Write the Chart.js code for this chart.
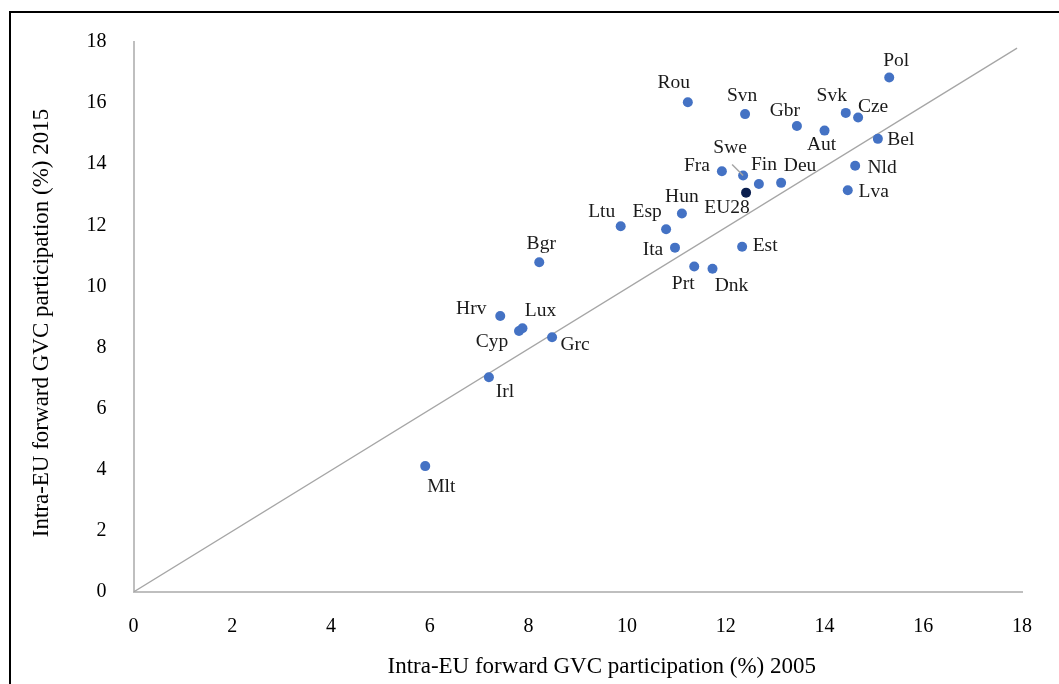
<!DOCTYPE html>
<html>
<head>
<meta charset="utf-8">
<script src="https://cdn.jsdelivr.net/npm/chart.js@4.4.1/dist/chart.umd.min.js"></script>
<style>
  body { margin: 0; background: #fff; overflow: hidden; }
  #frame { position: absolute; left: 9px; top: 11px; width: 1100px; height: 700px; border: 2px solid #000; }
  #myChart { position: absolute; left: 0; top: 0; }
</style>
</head>
<body>
<div id="frame"></div>
<canvas id="myChart" width="1059" height="684"></canvas>
<script>
// values
const countries = ['Pol', 'Rou', 'Svn', 'Gbr', 'Svk', 'Cze', 'Aut', 'Bel', 'Nld', 'Lva',
  'Fra', 'Swe', 'Fin', 'Deu', 'EU28', 'Hun', 'Ltu', 'Esp', 'Ita', 'Est',
  'Prt', 'Dnk', 'Bgr', 'Hrv', 'Lux', 'Cyp', 'Grc', 'Irl', 'Mlt'];
const gvc2005 = [15.31, 11.23, 12.39, 13.44, 14.43, 14.68, 14.00, 15.08, 14.62, 14.47,
  11.92, 12.35, 12.67, 13.12, 12.41, 11.11, 9.87, 10.79, 10.97, 12.33,
  11.36, 11.73, 8.22, 7.43, 7.88, 7.81, 8.48, 7.20, 5.91];
const gvc2015 = [16.84, 16.03, 15.64, 15.25, 15.68, 15.53, 15.10, 14.83, 13.95, 13.15,
  13.77, 13.63, 13.35, 13.39, 13.07, 12.39, 11.97, 11.87, 11.27, 11.30,
  10.65, 10.58, 10.79, 9.03, 8.63, 8.54, 8.34, 7.03, 4.12];
const diagX = [0, 17.9];
const diagY = [0, 17.8];
const ticksXY = [0, 2, 4, 6, 8, 10, 12, 14, 16, 18];
const xTitle = 'Intra-EU forward GVC participation (%) 2005';
const yTitle = 'Intra-EU forward GVC participation (%) 2015';

// where each name sits relative to its dot (px)
const labelOffset = {
  Pol: [7, -17], Rou: [-14, -19], Svn: [-3, -18], Gbr: [-12, -15], Svk: [-14, -17],
  Cze: [15, -11], Aut: [-3, 14], Bel: [23, 1], Nld: [27, 2], Lva: [26, 2],
  Fra: [-25, -5], Swe: [-13, -28], Fin: [5, -19], Deu: [19, -17], EU28: [-19, 15],
  Hun: [0, -17], Ltu: [-19, -14], Esp: [-19, -17], Ita: [-22, 2], Est: [23, -1],
  Prt: [-11, 17], Dnk: [19, 17], Bgr: [2, -18], Hrv: [-29, -7], Lux: [18, -17],
  Cyp: [-27, 11], Grc: [23, 8], Irl: [16, 15], Mlt: [16, 21]
};

const serif = "'Liberation Serif', 'DejaVu Serif', serif";

const pointLabels = {
  id: 'pointLabels',
  afterDatasetsDraw(chart) {
    const ctx = chart.ctx;
    const meta = chart.getDatasetMeta(0);
    ctx.save();
    ctx.font = '19.5px ' + serif;
    ctx.fillStyle = '#1a1a1a';
    ctx.textAlign = 'center';
    ctx.textBaseline = 'middle';
    meta.data.forEach((pt, i) => {
      const name = countries[i];
      const off = labelOffset[name];
      if (name === 'Swe') {
        ctx.strokeStyle = '#a6a6a6';
        ctx.lineWidth = 1.5;
        ctx.beginPath();
        ctx.moveTo(pt.x - 11, pt.y - 11);
        ctx.lineTo(pt.x, pt.y);
        ctx.stroke();
      }
      ctx.fillText(name, pt.x + off[0], pt.y + off[1]);
    });
    ctx.restore();
  }
};

// axis titles sit a little off-centre in the original, so they are drawn here
const axisTitles = {
  id: 'axisTitles',
  afterDraw(chart) {
    const ctx = chart.ctx;
    const a = chart.chartArea;
    ctx.save();
    ctx.font = '23px ' + serif;
    ctx.fillStyle = '#000';
    ctx.textAlign = 'center';
    ctx.textBaseline = 'alphabetic';
    ctx.fillText(xTitle, (a.left + a.right) / 2 + 24, a.bottom + 81);
    ctx.translate(48, (a.top + a.bottom) / 2 + 6);
    ctx.rotate(-Math.PI / 2);
    ctx.fillText(yTitle, 0, 0);
    ctx.restore();
  }
};

const canvas = document.getElementById('myChart');
const ctx = canvas.getContext('2d');

const chart = new Chart(ctx, {
  type: 'scatter',
  data: {
    datasets: [{
      label: 'countries',
      data: countries.map((c, i) => ({ x: gvc2005[i], y: gvc2015[i] })),
      backgroundColor: countries.map(c => c === 'EU28' ? '#0b1f4f' : '#4472c4'),
      borderWidth: 0,
      pointRadius: 5,
      order: 0
    }, {
      type: 'line',
      label: '45 degree',
      data: diagX.map((x, i) => ({ x: x, y: diagY[i] })),
      borderColor: '#a6a6a6',
      borderWidth: 1.3,
      pointRadius: 0,
      order: 1
    }]
  },
  options: {
    responsive: false,
    animation: false,
    layout: { padding: { left: 0, top: 42, right: 37, bottom: 0 } },
    plugins: {
      legend: { display: false },
      tooltip: { enabled: false }
    },
    scales: {
      x: {
        type: 'linear',
        min: 0,
        max: 18,
        afterBuildTicks: axis => { axis.ticks = ticksXY.map(v => ({ value: v })); },
        afterFit: axis => { axis.height = 92; },
        grid: { display: false },
        border: { display: true, color: '#bfbfbf', width: 2 },
        ticks: { color: '#000', font: { family: serif, size: 20 }, padding: 15 }
      },
      y: {
        type: 'linear',
        min: 0,
        max: 18,
        afterBuildTicks: axis => { axis.ticks = ticksXY.map(v => ({ value: v })); },
        afterFit: axis => { axis.width = 133.5; },
        grid: { display: false },
        border: { display: true, color: '#bfbfbf', width: 2 },
        ticks: { color: '#000', font: { family: serif, size: 20 }, padding: 19 }
      }
    }
  },
  plugins: [pointLabels, axisTitles]
});
</script>
</body>
</html>
